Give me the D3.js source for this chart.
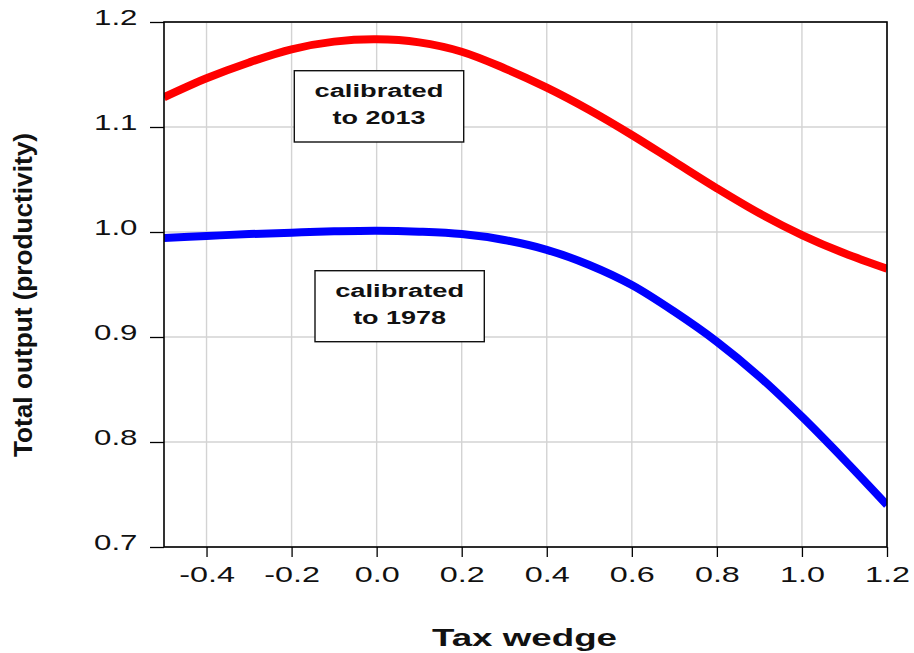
<!DOCTYPE html>
<html>
<head>
<meta charset="utf-8">
<script src="https://cdn.jsdelivr.net/npm/d3@7"></script>
<style>
  html, body { margin: 0; padding: 0; background: #fff; }
  svg { display: block; font-family: "Liberation Sans", Arial, sans-serif; }
</style>
</head>
<body>
<svg id="chart" width="914" height="653"></svg>
<script>
// ---- data ----
const taxWedge = [-0.5,-0.4,-0.3,-0.2,-0.1,0.0,0.1,0.2,0.3,0.4,0.5,0.6,0.7,0.8,0.9,1.0,1.1,1.2];
const output2013 = [1.1283,1.1464,1.1615,1.1740,1.1813,1.1835,1.1806,1.1717,1.1560,1.1375,1.1162,1.0924,1.0670,1.0416,1.0178,0.9971,0.9797,0.9650];
const output1978 = [0.9943,0.9962,0.9980,0.9994,1.0006,1.0012,1.0003,0.9980,0.9924,0.9830,0.9686,0.9495,0.9241,0.8955,0.8622,0.8241,0.7829,0.7400];
const xTicks = [-0.4,-0.2,0.0,0.2,0.4,0.6,0.8,1.0,1.2];
const yTicks = [0.7,0.8,0.9,1.0,1.1,1.2];
const seriesNames = ["calibrated to 2013","calibrated to 1978"];
const xTitle = "Tax wedge";
const yTitle = "Total output (productivity)";

// ---- layout ----
const svg = d3.select("#chart");
const L = 164, R = 887, T = 22, B = 547;
const x = d3.scaleLinear().domain([-0.5, 1.2]).range([L, R]);
const y = d3.scaleLinear().domain([0.7, 1.2]).range([B, T]);
const stretchFactor = 1.47;

function stretch(sel, f) {
  sel.each(function() {
    const w = this.getComputedTextLength();
    d3.select(this).attr("textLength", w * f).attr("lengthAdjust", "spacingAndGlyphs");
  });
}

// grid
svg.append("g").selectAll("line.v").data(xTicks).join("line")
  .attr("x1", d => x(d)).attr("x2", d => x(d)).attr("y1", T).attr("y2", B)
  .attr("stroke", "#d3d3d3").attr("stroke-width", 1.4);
svg.append("g").selectAll("line.h").data(yTicks).join("line")
  .attr("x1", L).attr("x2", R).attr("y1", d => y(d)).attr("y2", d => y(d))
  .attr("stroke", "#d3d3d3").attr("stroke-width", 1.4);

// axes
const fmt = d => d.toFixed(1);
const xAxis = svg.append("g").attr("transform", `translate(0,${B})`)
  .call(d3.axisBottom(x).tickValues(xTicks).tickSize(10).tickFormat(fmt));
const yAxis = svg.append("g").attr("transform", `translate(${L},0)`)
  .call(d3.axisLeft(y).tickValues(yTicks).tickSize(14).tickFormat(fmt));
[xAxis, yAxis].forEach(g => {
  g.select(".domain").remove();
  g.selectAll(".tick line").attr("stroke", "#000").attr("stroke-width", 1.3);
  g.selectAll(".tick text").attr("fill", "#111").style("font-size", "22px")
    .style("font-family", "'Liberation Sans', Arial, sans-serif");
});
xAxis.selectAll(".tick text").attr("y", 34.5).attr("dy", 0);
yAxis.selectAll(".tick text").attr("x", -26.5).attr("dy", 0).attr("y", 2.3);
stretch(xAxis.selectAll(".tick text"), stretchFactor);
stretch(yAxis.selectAll(".tick text"), 1.42);

// lines
const line = d3.line().x((d, i) => x(taxWedge[i])).y(d => y(d)).curve(d3.curveCatmullRom.alpha(0.5));
svg.append("clipPath").attr("id", "plotclip").append("rect")
  .attr("x", L).attr("y", T).attr("width", R - L).attr("height", B - T);
svg.append("path").datum(output2013).attr("d", line)
  .attr("fill", "none").attr("stroke", "#ff0000").attr("stroke-width", 8)
  .attr("clip-path", "url(#plotclip)");
svg.append("path").datum(output1978).attr("d", line)
  .attr("fill", "none").attr("stroke", "#0000ff").attr("stroke-width", 8)
  .attr("clip-path", "url(#plotclip)");

// frame
svg.append("rect").attr("x", L).attr("y", T).attr("width", R - L).attr("height", B - T)
  .attr("fill", "none").attr("stroke", "#000").attr("stroke-width", 1.6);

// annotation boxes
const boxes = [
  { name: seriesNames[0], x0: 294.3, x1: 463.7, y0: 70.7, y1: 142, base: 97.3 },
  { name: seriesNames[1], x0: 315, x1: 484.3, y0: 270.7, y1: 341.7, base: 297.3 }
];
boxes.forEach(b => {
  const g = svg.append("g");
  g.append("rect").attr("x", b.x0).attr("y", b.y0).attr("width", b.x1 - b.x0).attr("height", b.y1 - b.y0)
    .attr("fill", "#fff").attr("stroke", "#111").attr("stroke-width", 1.4);
  const cx = (b.x0 + b.x1) / 2;
  const words = [b.name.slice(0, 10), b.name.slice(11)];
  const lens = [129, 93];
  words.forEach((w, i) => {
    g.append("text").attr("x", cx).attr("y", b.base + i * 27)
      .attr("text-anchor", "middle").style("font-size", "18px").style("font-weight", "bold")
      .attr("fill", "#111").text(w)
      .attr("textLength", lens[i]).attr("lengthAdjust", "spacingAndGlyphs");
  });
});

// axis titles
svg.append("text").attr("x", (L + R) / 2 - 1).attr("y", 646).attr("text-anchor", "middle")
  .style("font-size", "23px").style("font-weight", "bold").attr("fill", "#111")
  .text(xTitle).attr("textLength", 185).attr("lengthAdjust", "spacingAndGlyphs");
svg.append("text").attr("transform", "translate(32,295) rotate(-90)").attr("text-anchor", "middle")
  .style("font-size", "25px").style("font-weight", "bold").attr("fill", "#111")
  .text(yTitle).attr("textLength", 324).attr("lengthAdjust", "spacingAndGlyphs");
</script>
</body>
</html>
